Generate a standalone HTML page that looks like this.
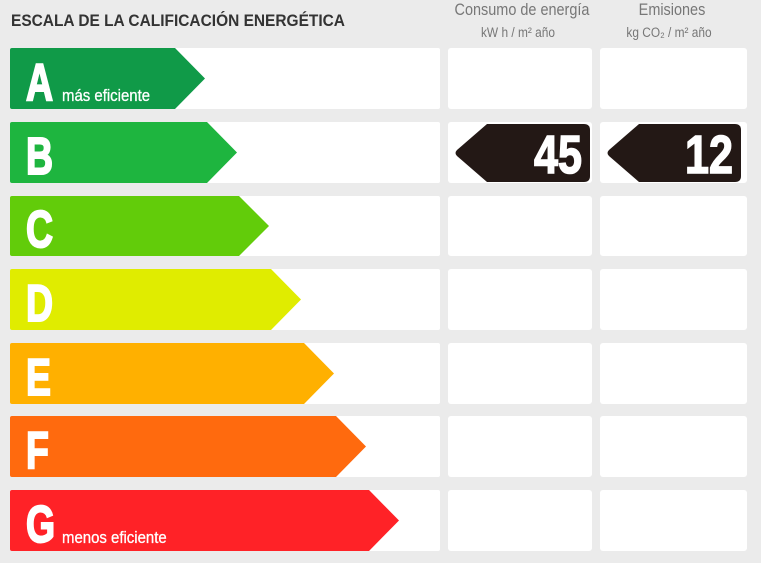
<!DOCTYPE html>
<html><head><meta charset="utf-8"><style>
html,body{margin:0;padding:0;background:#ebebeb;}
svg{display:block;}
</style></head><body>
<svg width="761" height="563" viewBox="0 0 761 563" xmlns="http://www.w3.org/2000/svg" font-family="Liberation Sans, sans-serif">
<rect width="761" height="563" fill="#ebebeb"/>
<text x="11" y="26" font-size="17" font-weight="bold" fill="#333" transform="translate(11 0) scale(0.91 1) translate(-11 0)">ESCALA DE LA CALIFICACIÓN ENERGÉTICA</text>
<text x="522" y="15" font-size="17" fill="#777" text-anchor="middle" transform="translate(522 0) scale(0.85 1) translate(-522 0)">Consumo de energía</text>
<text x="518" y="37" font-size="14" fill="#777" text-anchor="middle" transform="translate(518 0) scale(0.85 1) translate(-518 0)">kW h / m² año</text>
<text x="672" y="15" font-size="17" fill="#777" text-anchor="middle" transform="translate(672 0) scale(0.85 1) translate(-672 0)">Emisiones</text>
<text x="669" y="37" font-size="14" fill="#777" text-anchor="middle" transform="translate(669 0) scale(0.85 1) translate(-669 0)">kg CO₂ / m² año</text>
<g fill="#fff">
<rect x="10" y="48" width="430" height="61" rx="2"/><rect x="448" y="48" width="144" height="61" rx="3"/><rect x="600" y="48" width="147" height="61" rx="3"/>
<rect x="10" y="122" width="430" height="61" rx="2"/><rect x="448" y="122" width="144" height="61" rx="3"/><rect x="600" y="122" width="147" height="61" rx="3"/>
<rect x="10" y="196" width="430" height="60" rx="2"/><rect x="448" y="196" width="144" height="60" rx="3"/><rect x="600" y="196" width="147" height="60" rx="3"/>
<rect x="10" y="269" width="430" height="61" rx="2"/><rect x="448" y="269" width="144" height="61" rx="3"/><rect x="600" y="269" width="147" height="61" rx="3"/>
<rect x="10" y="343" width="430" height="61" rx="2"/><rect x="448" y="343" width="144" height="61" rx="3"/><rect x="600" y="343" width="147" height="61" rx="3"/>
<rect x="10" y="416" width="430" height="61" rx="2"/><rect x="448" y="416" width="144" height="61" rx="3"/><rect x="600" y="416" width="147" height="61" rx="3"/>
<rect x="10" y="490" width="430" height="61" rx="2"/><rect x="448" y="490" width="144" height="61" rx="3"/><rect x="600" y="490" width="147" height="61" rx="3"/>
</g>
<g stroke-linejoin="round">
<path d="M12 48 H175 L205 78.5 L175 109 H12 Q10 109 10 107 V50 Q10 48 12 48Z" fill="#109a48"/>
<path d="M12 122 H207 L237 152.5 L207 183 H12 Q10 183 10 181 V124 Q10 122 12 122Z" fill="#1eb53f"/>
<path d="M12 196 H239 L269 226 L239 256 H12 Q10 256 10 254 V198 Q10 196 12 196Z" fill="#62cc0a"/>
<path d="M12 269 H271 L301 299.5 L271 330 H12 Q10 330 10 328 V271 Q10 269 12 269Z" fill="#e0ec00"/>
<path d="M12 343 H304 L334 373.5 L304 404 H12 Q10 404 10 402 V345 Q10 343 12 343Z" fill="#ffb000"/>
<path d="M12 416 H336 L366 446.5 L336 477 H12 Q10 477 10 475 V418 Q10 416 12 416Z" fill="#ff6a0e"/>
<path d="M12 490 H369 L399 520.5 L369 551 H12 Q10 551 10 549 V492 Q10 490 12 490Z" fill="#ff2227"/>
</g>
<g fill="#fff" stroke="#fff" stroke-width="2" font-weight="bold" font-size="52">
<text transform="translate(26 100) scale(0.72 1)">A</text>
<text transform="translate(26 174) scale(0.72 1)">B</text>
<text transform="translate(26 247) scale(0.72 1)">C</text>
<text transform="translate(26 321) scale(0.72 1)">D</text>
<text transform="translate(26 395) scale(0.72 1)">E</text>
<text transform="translate(26 468) scale(0.72 1)">F</text>
<text transform="translate(26 542) scale(0.72 1)">G</text>
</g>
<text transform="translate(62 101) scale(0.88 1)" font-size="17" fill="#fff" stroke="#fff" stroke-width="0.3">más eficiente</text>
<text transform="translate(62 543) scale(0.88 1)" font-size="17" fill="#fff" stroke="#fff" stroke-width="0.3">menos eficiente</text>
<path d="M487 124 H584 Q590 124 590 130 V176 Q590 182 584 182 H487 L457 156 Q454 153 457 150 Z" fill="#231815"/>
<path d="M639 124 H735 Q741 124 741 130 V176 Q741 182 735 182 H639 L609 156 Q606 153 609 150 Z" fill="#231815"/>
<g fill="#fff" stroke="#fff" stroke-width="1.5" font-weight="bold" font-size="54" text-anchor="end">
<text transform="translate(582 173) scale(0.8 1)">45</text>
<text transform="translate(733 173) scale(0.8 1)">12</text>
</g>
</svg>
</body></html>
